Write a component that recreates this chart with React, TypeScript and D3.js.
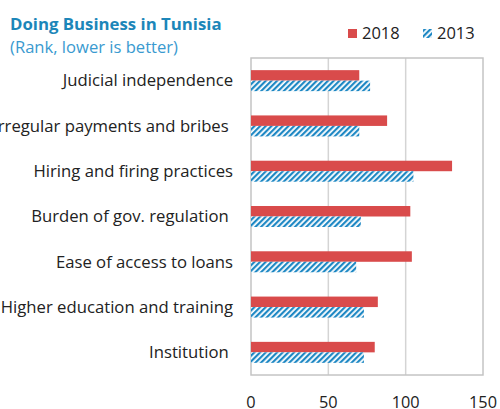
import React from "react";
import * as d3 from "d3";

const categories = [
  "Judicial independence",
  "Irregular payments and bribes ",
  "Hiring and firing practices",
  "Burden of gov. regulation ",
  "Ease of access to loans",
  "Higher education and training",
  "Institution ",
];
const values2018 = [70, 88, 130, 103, 104, 82, 80];
const values2013 = [77, 70, 105, 71, 68, 73, 73];
const xTicks = [0, 50, 100, 150];
const seriesNames = ["2018", "2013"];

const W = 500;
const H = 409;
const M = { left: 251, right: 483, top: 58, bottom: 375 };
const RED = "#d94b4b";
const BLUE = "#1e88c4";
const FONT = "'Open Sans', 'Noto Sans', sans-serif";

export default function App() {
  const x = d3.scaleLinear().domain([0, 150]).range([M.left, M.right]);
  const y = d3.scaleBand<string>().domain(categories).range([M.top, M.bottom]).paddingInner(0).paddingOuter(0);
  const bw = y.bandwidth();
  const barH = 10.5;

  return (
    <svg width={W} height={H} style={{ position: "absolute", left: 0, top: 0, background: "#fff" }}>
      <defs>
        <pattern id="hatch" patternUnits="userSpaceOnUse" width={4} height={4} patternTransform="rotate(45)">
          <rect x={0} y={0} width={4} height={4} fill="#fff" />
          <rect x={0} y={0} width={2.2} height={4} fill={BLUE} />
        </pattern>
      </defs>
      <rect x={0} y={0} width={W} height={H} fill="#fff" />
      <text x={10} y={30} fontFamily={FONT} fontWeight={700} fontSize={16.8} fill="#1c86b9">
        Doing Business in Tunisia
      </text>
      <text x={10} y={52.5} fontFamily={FONT} fontSize={16.6} fill="#3a9ad0">
        (Rank, lower is better)
      </text>
      {/* legend */}
      <rect x={348} y={29} width={9} height={9} fill={RED} />
      <text x={362} y={39} fontFamily={FONT} fontSize={16.5} fill="#222">{seriesNames[0]}</text>
      <rect x={423} y={29} width={9} height={9} fill="url(#hatch)" />
      <text x={437} y={39} fontFamily={FONT} fontSize={16.5} fill="#222">{seriesNames[1]}</text>

      {/* gridlines */}
      {xTicks.slice(1, -1).map((t) => (
        <line key={t} x1={x(t)} x2={x(t)} y1={M.top} y2={M.bottom} stroke="#d4d4d4" strokeWidth={1.5} />
      ))}
      <rect x={M.left} y={M.top} width={M.right - M.left} height={M.bottom - M.top} fill="none" stroke="#c4c4c4" strokeWidth={1.5} />

      {categories.map((c, i) => {
        const cy = (y(c) as number) + bw / 2;
        return (
          <g key={c}>
            <rect x={x(0)} y={cy - barH} width={x(values2018[i]) - x(0)} height={barH} fill={RED} />
            <rect x={x(0)} y={cy} width={x(values2013[i]) - x(0)} height={barH} fill="url(#hatch)" />
            <text x={233} y={cy} dy="0.35em" textAnchor="end" fontFamily={FONT} fontSize={16.7} fill="#222" style={{ whiteSpace: "pre" }}>
              {c}
            </text>
          </g>
        );
      })}

      {xTicks.map((t) => (
        <text key={t} x={x(t)} y={407.5} textAnchor="middle" fontFamily={FONT} fontSize={16.3} fill="#222">
          {t}
        </text>
      ))}
    </svg>
  );
}
